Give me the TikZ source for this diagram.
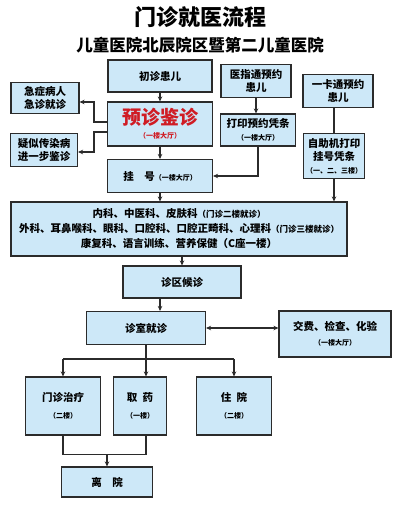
\documentclass[tikz,border=0pt]{standalone}
\usepackage{fontspec}
\setmainfont{Noto Sans CJK SC}
\usetikzlibrary{arrows.meta}
\definecolor{boxblue}{HTML}{CDE8F8}
\definecolor{edge}{HTML}{2B2B2B}
\definecolor{warn}{HTML}{D01C24}
\newcommand\flr[1]{{\fontsize{7}{9}\selectfont #1}}

\begin{document}
\begin{tikzpicture}[x=1pt,y=-1pt,
  box/.style={draw=edge,line width=1.1pt,fill=boxblue,align=center,inner sep=1pt,
    font=\bfseries\fontsize{10.5}{13}\selectfont},
  link/.style={edge,line width=1.6pt,-{Stealth[length=5pt,width=4.5pt]}},
  line/.style={edge,line width=1.6pt}]
  \fill[white] (0,0) rectangle (400,505);
  \useasboundingbox (0,0) rectangle (400,505);

  % titles
  \node[font=\bfseries\fontsize{22}{24}\selectfont] (title) at (200,17) {门诊就医流程};
  \node[font=\bfseries\fontsize{16.5}{18}\selectfont] (sub) at (200,45) {儿童医院北辰院区暨第二儿童医院};

  % top row
  \node[box,minimum width=104,minimum height=32] (cz) at (160,76) {初诊患儿};
  \node[box,minimum width=70,minimum height=33] (yzt) at (256,81) {医指通预约\\患儿};
  \node[box,minimum width=70,minimum height=33] (ykt) at (338,91) {一卡通预约\\患儿};
  \node[box,minimum width=68,minimum height=31] (jz) at (45,98) {急症病人\\急诊就诊};
  \node[box,minimum width=105,minimum height=44] (yz) at (160,124)
    {{\color{warn}\fontsize{19}{22}\selectfont 预诊鉴诊}\\[1pt]{\color{warn}\flr{（一楼大厅）}}};
  \node[box,minimum width=75,minimum height=32] (dy) at (258,130) {打印预约凭条\\\flr{（一楼大厅）}};
  \node[box,minimum width=67,minimum height=33] (ys) at (44,150) {疑似传染病\\进一步鉴诊};
  \node[box,minimum width=105,minimum height=33] (gh) at (160,176) {挂\quad 号\flr{（一楼大厅）}};
  \node[box,minimum width=61,minimum height=45] (zzj) at (334,156)
    {自助机打印\\挂号凭条\\\flr{（一、二、三楼）}};

  % departments
  \node[box,minimum width=336,minimum height=54,font=\bfseries\fontsize{10.5}{15}\selectfont] (ks) at (179,229)
    {内科、中医科、皮肤科{\fontsize{8.5}{9}\selectfont（门诊二楼就诊）}\\
     外科、耳鼻喉科、眼科、口腔科、口腔正畸科、心理科{\fontsize{8.5}{9}\selectfont（门诊三楼就诊）}\\
     康复科、语言训练、营养保健（C座一楼）};

  % waiting and visit
  \node[box,minimum width=118,minimum height=32] (hz) at (182,282) {诊区候诊};
  \node[box,minimum width=119,minimum height=33] (zs) at (146,328) {诊室就诊};
  \node[box,minimum width=112,minimum height=46] (jf) at (335,334) {交费、检查、化验\\[2pt]\flr{（一楼大厅）}};

  % after visit
  \node[box,minimum width=75,minimum height=58] (mz) at (63,406) {门诊治疗\\[4pt]\flr{（二楼）}};
  \node[box,minimum width=53,minimum height=58] (qy) at (140,406) {取\enspace 药\\[4pt]\flr{（一楼）}};
  \node[box,minimum width=75,minimum height=58] (zy) at (234,406) {住\enspace 院\\[4pt]\flr{（二楼）}};
  \node[box,minimum width=91,minimum height=30] (ly) at (107,482) {离\quad 院};

  % connectors
  \draw[link] (cz) -- (yz);
  \draw[link] (yzt.south) -- (yzt.south |- dy.north);
  \draw[line] (ykt.south -| zzj.north) -- (zzj.north);
  \draw[link] (zzj.south) -- (zzj.south |- ks.north);
  \draw[link] (yz) -- (gh);
  \draw[link] (dy.south) |- (gh.east);
  \draw[link] ([yshift=2pt]yz.west) -- ++(-13,0) |- ([yshift=-4pt]jz.east);
  \draw[link] ([yshift=-8pt]yz.west) -- ++(-13,0) |- ([yshift=-2pt]ys.east);
  \draw[link] (gh.south) -- (gh.south |- ks.north);
  \draw[link] (ks.south -| hz.north) -- (hz.north);
  \draw[link] ([xshift=-22pt]hz.south) -- ([xshift=-22pt]hz.south |- zs.north);
  \draw[edge,line width=1.6pt,{Stealth[length=5pt,width=4.5pt]}-{Stealth[length=5pt,width=4.5pt]}]
    (zs.east) -- (zs.east -| jf.west);

  \coordinate (split) at ([yshift=-14pt]zs.south);
  \draw[line] (zs.south) -- (split);
  \draw[line] (split -| mz.north) -- (split -| zy.north);
  \draw[link] (split -| mz.north) -- (mz.north);
  \draw[link] (split) -- (split |- qy.north);
  \draw[link] (split -| zy.north) -- (zy.north);

  \coordinate (merge) at ([yshift=12pt]ly.north);
  \draw[line] (mz.south) |- (merge) -| (split |- qy.south);
  \draw[link] (merge) -- (ly.north);
\end{tikzpicture}
\end{document}
